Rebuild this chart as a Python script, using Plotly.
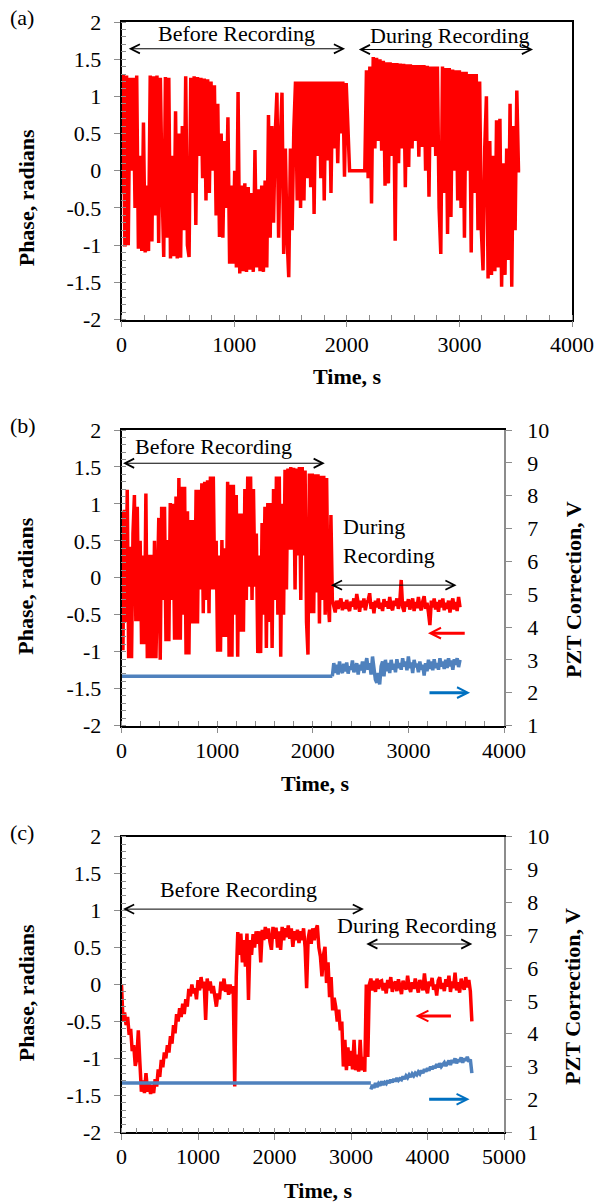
import plotly.graph_objects as go

# ---------------- data ----------------
# (a) phase, radians, sampled every 15 s from t = 0 s
phase_a_t0, phase_a_dt = 0, 15
phase_a = [
    -0.3, 1.3, -1.02, 1.28, -1.0, 1.25, 0.0, 1.25, -0.5, 1.28,
    -1.05, 0.2, -1.08, 0.65, -1.1, -0.2, -1.08, 1.28, -0.95, 1.27,
    -0.6, 1.28, -0.97, 1.25, -0.2, -1.16, 1.26, -0.9, 1.25, -1.18,
    0.2, -1.15, 0.8, -1.18, 0.5, -1.17, 0.6, -0.8, 1.27, -1.0,
    -1.16, 1.25, -0.3, 1.27, -0.73, 1.26, 0.2, 1.25, -0.1, 1.24,
    -0.4, 1.23, -0.3, 1.2, 0.0, 1.15, -0.6, 0.9, -0.89, 0.5,
    -0.9, 0.4, -0.5, 0.72, -1.25, -0.2, -1.25, 0.0, -1.3, 1.06,
    -1.38, -0.2, -1.35, -0.17, -1.36, -0.22, -1.33, -0.3, -1.36, 0.28,
    -1.3, -0.25, -1.35, -0.2, -1.36, -0.13, -1.3, 0.75, -0.9, 0.6,
    -0.7, 0.5, 1.05, -0.9, 0.4, 1.05, -1.12, 0.3, -0.9, -1.43,
    0.3, -0.8, 0.55, 1.2, -0.4, 1.2, -0.5, 1.2, -0.4, 1.2,
    -0.1, 1.2, -0.22, 1.2, -0.58, 1.2, 0.2, 1.2, -0.1, 1.2,
    -0.4, 1.2, 0.14, 1.2, -0.3, 1.2, 0.3, 1.2, 0.1, 1.2,
    0.5, 1.2, -0.08, 1.18, 0.6, 0.0, 0.0, 0.0, 0.0, 0.0,
    0.0, 0.0, 0.0, 0.0, 0.0, 1.35, -0.1, 1.4, -0.44, 1.53,
    0.3, 1.52, 0.4, 1.5, 0.27, 1.48, -0.2, 1.46, -0.17, 1.46,
    0.2, 1.45, -0.94, 1.45, 0.1, 1.44, 0.3, 1.44, -0.22, 1.43,
    0.05, 1.43, 0.3, 1.42, 0.4, 1.42, 0.19, 1.42, 0.32, 1.42,
    0.0, 1.41, -0.35, 1.4, 0.32, 1.4, 0.2, 1.4, -0.5, -1.12,
    1.4, -0.3, 1.38, -0.85, 1.38, -0.62, 1.36, 0.0, 1.35, -0.4,
    1.35, -0.5, 1.33, -0.9, 1.33, 0.0, 1.3, -1.1, 1.3, -0.3,
    1.3, -0.8, 1.2, -0.8, -1.34, 0.3, 1.0, -1.45, 0.4, -1.4,
    0.2, -1.35, 0.68, -1.3, 0.7, -1.56, 0.1, -1.4, 0.3, -1.2,
    0.9, -1.56, 0.6, -0.8, 1.08, 0.0, 0.0,
]

# (b) phase, radians, every 15 s from t = 0 s
phase_b_t0, phase_b_dt = 0, 15
phase_b = [
    0.9, -0.98, 0.92, -0.6, 1.19, -1.09, 0.42, -1.09, 0.6, 1.12,
    -0.59, 0.96, -0.59, 0.5, -0.9, 0.3, -0.9, 1.14, -1.09, 0.31,
    -1.09, 0.31, -1.09, 0.5, -1.09, 0.2, 0.81, -1.11, 0.96, -0.3,
    0.96, -0.86, 0.51, -0.86, 1.01, -0.3, 1.0, -0.84, 1.1, -0.84,
    1.35, -0.84, 1.23, -0.5, 1.23, -1.04, 0.9, -1.04, 0.78, -0.62,
    0.78, -0.62, 1.19, -0.62, 1.19, -0.16, 1.28, -0.48, 1.3, -0.3,
    1.32, -0.48, 1.37, -0.16, 1.37, -0.16, 0.5, -1.0, 0.3, -1.0,
    0.51, -0.8, 0.4, -0.8, 1.3, -1.07, 1.26, -1.07, 1.26, -0.5,
    1.12, -1.07, 0.87, -0.73, 0.87, -0.73, 1.2, -0.3, 1.37, -0.12,
    1.37, -0.3, 1.2, -0.12, 0.6, -1.02, 0.3, -1.02, 0.74, -0.5,
    0.96, -0.95, 1.01, -0.6, 1.01, -0.95, 1.2, -0.3, 1.37, -0.5,
    1.37, -1.07, 1.0, -0.5, 1.46, -0.16, 1.48, 0.38, 1.5, 0.38,
    1.49, -0.16, 1.48, 0.3, 1.5, -0.3, 1.5, 0.3, 1.45, -0.6,
    -1.04, 1.41, -0.48, 1.41, -0.48, 1.4, -0.2, 1.4, -0.62, 1.38,
    -0.3, 1.38, -0.5, 1.35, -0.3, -0.6, 0.85, -0.3,
    -0.38, -0.47, -0.31, -0.42, -0.34, -0.28, -0.44, -0.33, -0.42, -0.3,
    -0.4, -0.45, -0.32, -0.39, -0.28, -0.43, -0.22, -0.39, -0.46, -0.31,
    -0.4, -0.28, -0.44, -0.34, -0.3, -0.21, -0.42, -0.33, -0.48, -0.31,
    -0.4, -0.28, -0.42, -0.34, -0.45, -0.29, -0.39, -0.32, -0.42, -0.26,
    -0.4, -0.44, -0.31, -0.38, -0.28, -0.42, -0.33, -0.03, -0.4, -0.46,
    -0.32, -0.39, -0.29, -0.43, -0.34, -0.28, -0.45, -0.33, -0.41, -0.26,
    -0.39, -0.44, -0.32, -0.25, -0.42, -0.34, -0.47, -0.64, -0.31, -0.4,
    -0.28, -0.43, -0.33, -0.46, -0.3, -0.4, -0.28, -0.44, -0.34, -0.42,
    -0.31, -0.47, -0.35, -0.28, -0.43, -0.33, -0.45, -0.26, -0.4,
]

# (b) PZT correction, V
pzt_b_flat_t = [0, 2205]
pzt_b_flat = [2.5, 2.5]
pzt_b_t0, pzt_b_dt = 2205, 15
pzt_b = [
    2.5, 2.9, 2.6, 2.85, 2.55, 2.95, 2.7, 2.6, 2.88, 2.65,
    2.92, 2.58, 2.8, 2.7, 2.98, 2.62, 2.75, 2.9, 2.55, 2.85,
    2.68, 2.95, 2.6, 2.82, 3.05, 2.7, 2.9, 2.55, 3.1, 2.75,
    2.4, 2.3, 2.6, 2.25, 2.8, 2.95, 2.5, 3.0, 2.65, 2.9,
    2.6, 3.0, 2.7, 2.88, 2.62, 3.02, 2.75, 2.9, 2.7, 3.05,
    2.8, 2.95, 2.68, 3.1, 2.75, 2.92, 2.6, 3.0, 2.78, 2.88,
    2.62, 2.95, 2.7, 2.85, 2.52, 2.9, 2.65, 3.0, 2.72, 2.95,
    2.68, 3.02, 2.75, 2.9, 2.7, 3.05, 2.8, 2.95, 2.72, 3.0,
    2.75, 3.05, 2.8, 2.98, 2.7, 3.02, 2.85, 3.05, 2.78, 3.0,
]

# (c) phase, radians, every 20 s from t = 0 s
phase_c_t0, phase_c_dt = 0, 20
phase_c = [
    0.0, -0.5, -0.38, -0.55, -0.44, -0.68, -0.6, -0.9, -0.82, -1.1,
    -1.0, -0.62, -1.05, -1.45, -1.3, -1.47, -1.2, -1.45, -1.35, -1.48,
    -1.36, -1.47, -1.28, -1.38, -1.15, -1.25, -1.02, -1.12, -0.92, -1.0,
    -0.82, -0.92, -0.7, -0.8, -0.55, -0.66, -0.4, -0.5, -0.32, -0.44,
    -0.26, -0.4, -0.2, -0.3, -0.06, -0.16, 0.0, -0.12, -0.05, -0.2,
    0.06, -0.08, 0.1, -0.05, 0.04, -0.48, 0.08, -0.08, 0.04, -0.12,
    -0.02, -0.2, -0.3, -0.12, -0.2, 0.04, -0.08, 0.08, -0.1, 0.0,
    -0.14, 0.0, -0.12, -0.02, -1.38, 0.1, 0.71, 0.4, 0.69, 0.3,
    0.6, 0.24, 0.69, -0.21, 0.6, 0.4, 0.68, 0.5, 0.72, 0.55,
    0.72, 0.3, 0.74, 0.6, 0.78, 0.62, 0.76, 0.58, 0.47, 0.78,
    0.62, 0.77, 0.5, 0.72, 0.47, 0.78, 0.6, 0.76, 0.64, 0.8,
    0.62, 0.76, 0.51, 0.72, 0.6, 0.74, 0.56, 0.72, 0.6, 0.76,
    0.5, -0.05, 0.62, 0.74, 0.55, 0.76, 0.6, 0.74, 0.8, 0.5,
    0.38, 0.11, 0.4, 0.51, 0.02, 0.3, -0.17, 0.1, -0.35, -0.18,
    -0.3, -0.5, -0.34, -0.62, -0.5, -1.11, -0.75, -1.16, -0.85, -1.1,
    -0.9, -1.15, -0.75, -1.16, -0.95, -1.18, -0.75, -1.16, -0.98, -1.18,
    0.0, -0.98, 0.0, 0.08, -0.08, 0.05, -0.1, 0.08, -0.06, 0.04,
    0.05, -0.08, 0.02, -0.12, 0.06, -0.05, 0.1, -0.1, 0.0, 0.04,
    -0.09, 0.07, -0.03, -0.13, 0.05, 0.0, -0.07, 0.12, -0.04, -0.1,
    0.03, -0.06, 0.08, -0.02, -0.11, 0.06, 0.01, -0.08, 0.15, -0.05,
    -0.12, 0.04, -0.02, 0.09, -0.07, 0.0, -0.15, 0.05, 0.1, -0.06,
    0.02, -0.09, 0.07, -0.03, 0.12, -0.1, 0.04, -0.05, 0.16, -0.08,
    0.03, -0.11, 0.08, -0.02, -0.07, 0.1, -0.04, 0.06, -0.09, -0.5,
]

# (c) PZT correction, V
pzt_c_flat_t = [0, 3260]
pzt_c_flat = [2.5, 2.5]
pzt_c_t0, pzt_c_dt = 3260, 20
pzt_c = [
    2.3, 2.45, 2.35, 2.5, 2.38, 2.48, 2.42, 2.55, 2.45, 2.52,
    2.48, 2.58, 2.5, 2.6, 2.52, 2.62, 2.55, 2.65, 2.58, 2.63,
    2.6, 2.7, 2.62, 2.72, 2.66, 2.75, 2.68, 2.78, 2.72, 2.8,
    2.75, 2.84, 2.78, 2.88, 2.8, 2.92, 2.85, 2.95, 2.88, 3.0,
    2.92, 3.02, 2.95, 3.08, 2.98, 3.1, 3.0, 3.05, 3.12, 3.02,
    3.1, 3.18, 3.05, 3.2, 3.12, 3.25, 3.1, 3.22, 3.15, 3.28,
    3.12, 3.25, 3.18, 3.3, 3.15, 3.22, 2.8,
]

phase_tickvals = [-2, -1.5, -1, -0.5, 0, 0.5, 1, 1.5, 2]
phase_ticktext = ["-2", "-1.5", "-1", "-0.5", "0", "0.5", "1", "1.5", "2"]
pzt_tickvals = [1, 2, 3, 4, 5, 6, 7, 8, 9, 10]
pzt_ticktext = ["1", "2", "3", "4", "5", "6", "7", "8", "9", "10"]
time_ticks_ab = [0, 1000, 2000, 3000, 4000]
time_ticks_c = [0, 1000, 2000, 3000, 4000, 5000]

# ---------------- figure ----------------
W, H = 599, 1204
FONT = "Liberation Serif, Times New Roman, serif"
RED = "#FF0000"
BLUE = "#4F81BD"
ARROW_BLUE = "#0070C0"
GRAY = "#8C8C8C"
LW = 3.5
NBSP = "\u00a0"


def fx(p):
    return p / W


def fy(p):
    return 1 - p / H


fig = go.Figure()
fig.add_trace(go.Scatter(x0=phase_a_t0, dx=phase_a_dt, y=phase_a, mode="lines",
                         line=dict(color=RED, width=LW), xaxis="x", yaxis="y"))
fig.add_trace(go.Scatter(x0=phase_b_t0, dx=phase_b_dt, y=phase_b, mode="lines",
                         line=dict(color=RED, width=LW), xaxis="x2", yaxis="y2"))
fig.add_trace(go.Scatter(x=pzt_b_flat_t, y=pzt_b_flat, mode="lines",
                         line=dict(color=BLUE, width=LW), xaxis="x2", yaxis="y3"))
fig.add_trace(go.Scatter(x0=pzt_b_t0, dx=pzt_b_dt, y=pzt_b, mode="lines",
                         line=dict(color=BLUE, width=LW), xaxis="x2", yaxis="y3"))
fig.add_trace(go.Scatter(x0=phase_c_t0, dx=phase_c_dt, y=phase_c, mode="lines",
                         line=dict(color=RED, width=LW), xaxis="x3", yaxis="y4"))
fig.add_trace(go.Scatter(x=pzt_c_flat_t, y=pzt_c_flat, mode="lines",
                         line=dict(color=BLUE, width=LW), xaxis="x3", yaxis="y5"))
fig.add_trace(go.Scatter(x0=pzt_c_t0, dx=pzt_c_dt, y=pzt_c, mode="lines",
                         line=dict(color=BLUE, width=LW), xaxis="x3", yaxis="y5"))

tickfont = dict(family=FONT, size=22, color="black")


def xaxis(domain, rng, ticks, anchor):
    return dict(domain=domain, range=rng, anchor=anchor, tickmode="array",
                tickvals=ticks, ticktext=[str(t) for t in ticks],
                showline=True, linecolor="black", linewidth=1.5, mirror=True,
                ticks="outside", ticklen=6, tickcolor=GRAY, tickwidth=1,
                minor=dict(ticks="inside", dtick=200, tick0=0, ticklen=5,
                           tickcolor=GRAY, tickwidth=1),
                showgrid=False, zeroline=False, tickfont=tickfont,
                ticklabelstandoff=-2, automargin=False, fixedrange=True)


def yaxis(domain, anchor, mirror):
    return dict(domain=domain, range=[-2, 2], anchor=anchor, tickmode="array",
                tickvals=phase_tickvals, ticktext=phase_ticktext,
                showline=True, linecolor="black", linewidth=1.5, mirror=mirror,
                ticks="outside", ticklen=6, tickcolor=GRAY, tickwidth=1,
                minor=dict(ticks="inside", dtick=0.1, tick0=-2, ticklen=5,
                           tickcolor=GRAY, tickwidth=1),
                showgrid=False, zeroline=False, tickfont=tickfont,
                ticklabelstandoff=8, automargin=False, fixedrange=True)


def yaxis_right(overlay, anchor):
    return dict(overlaying=overlay, side="right", anchor=anchor, range=[1, 10],
                tickmode="array", tickvals=pzt_tickvals,
                ticktext=[NBSP + NBSP + t for t in pzt_ticktext],
                showline=True, linecolor=GRAY, linewidth=1.5,
                ticks="outside", ticklen=6, tickcolor=GRAY, tickwidth=1,
                showgrid=False, zeroline=False, tickfont=tickfont,
                automargin=False, fixedrange=True)


xa = [fx(121.5), fx(572)]
xbc = [fx(121.5), fx(504)]
fig.update_layout(
    width=W, height=H, margin=dict(l=0, r=0, t=0, b=0, autoexpand=False),
    paper_bgcolor="white", plot_bgcolor="white", showlegend=False,
    xaxis=xaxis(xa, [0, 4000], time_ticks_ab, "y"),
    yaxis=yaxis([fy(319.5), fy(22)], "x", True),
    xaxis2=xaxis(xbc, [0, 4000], time_ticks_ab, "y2"),
    yaxis2=yaxis([fy(725.5), fy(430)], "x2", False),
    yaxis3=yaxis_right("y2", "x2"),
    xaxis3=xaxis(xbc, [0, 5000], time_ticks_c, "y4"),
    yaxis4=yaxis([fy(1132.3), fy(836.7)], "x3", False),
    yaxis5=yaxis_right("y4", "x3"),
)

ann = []


def text(s, x, y, xref, yref, size=22, angle=0, xanchor="center", align="center"):
    ann.append(dict(text=s, x=x, y=y, xref=xref, yref=yref, showarrow=False,
                    font=dict(family=FONT, size=size, color="black"),
                    textangle=angle, xanchor=xanchor, yanchor="middle", align=align))


def darrow(x0, x1, y, xref, yref):
    ann.append(dict(text="", x=x1, y=y, ax=x0, ay=y, xref=xref, yref=yref,
                    axref=xref, ayref=yref, showarrow=True, arrowside="end+start",
                    arrowhead=5, startarrowhead=5, arrowsize=1.8, startarrowsize=1.8,
                    arrowwidth=1, arrowcolor="black", standoff=0, startstandoff=0))


def carrow(x0, x1, y, xref, yref, color):
    ann.append(dict(text="", x=x1, y=y, ax=x0, ay=y, xref=xref, yref=yref,
                    axref=xref, ayref=yref, showarrow=True, arrowhead=5,
                    arrowsize=0.7, arrowwidth=3, arrowcolor=color, standoff=0))


# panel labels
text("(a)", fx(22), fy(17), "paper", "paper")
text("(b)", fx(23), fy(425), "paper", "paper")
text("(c)", fx(22), fy(832), "paper", "paper")

# axis titles
for yc in (198.3, 586.7, 993.3):
    text("<b>Phase, radians</b>", fx(26), fy(yc), "paper", "paper", angle=-90)
for yc in (590, 996.7):
    text("<b>PZT Correction, V</b>", fx(573), fy(yc), "paper", "paper", angle=-90)
text("<b>Time, s</b>", fx(347), fy(376.7), "paper", "paper")
text("<b>Time, s</b>", fx(315), fy(783.3), "paper", "paper")
text("<b>Time, s</b>", fx(318), fy(1190), "paper", "paper")

# (a) annotations
text("Before Recording", 1022, 1.85, "x", "y")
text("During Recording", 2908, 1.82, "x", "y")
darrow(51, 1985, 1.64, "x", "y")
darrow(2094, 3654, 1.63, "x", "y")

# (b) annotations
text("Before Recording", 957, 1.78, "x2", "y2")
darrow(0, 2126, 1.55, "x2", "y2")
text("During<br>Recording", 2298, 0.5, "x2", "y2", xanchor="left", align="left")
darrow(2174, 3504, -0.1, "x2", "y2")
carrow(3605, 3205, -0.75, "x2", "y2", RED)
carrow(3205, 3645, -1.555, "x2", "y2", ARROW_BLUE)

# (c) annotations
text("Before Recording", 1528, 1.28, "x3", "y4")
darrow(0, 3169, 1.02, "x3", "y4")
text("During Recording", 3852, 0.8, "x3", "y4")
darrow(3180, 4586, 0.548, "x3", "y4")
carrow(4326, 3842, -0.426, "x3", "y4", RED)
carrow(4002, 4550, -1.553, "x3", "y4", ARROW_BLUE)

fig.update_layout(annotations=ann)
fig.write_html("out.html")
